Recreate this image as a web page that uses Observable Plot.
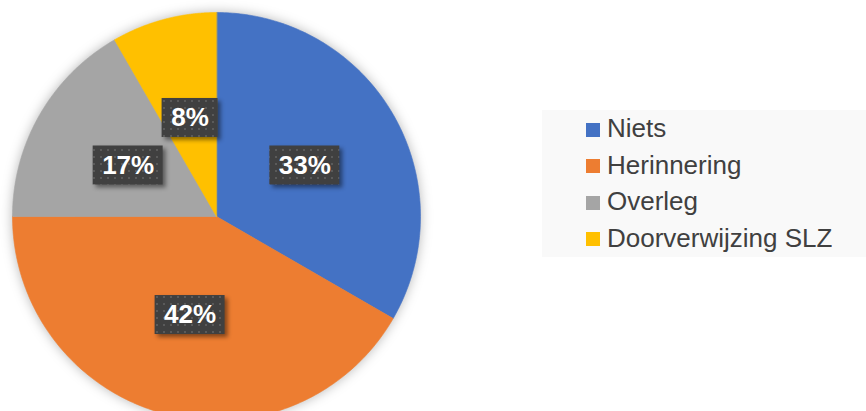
<!DOCTYPE html>
<html>
<head>
<meta charset="utf-8">
<script src="https://cdn.jsdelivr.net/npm/d3@7"></script>
<script src="https://cdn.jsdelivr.net/npm/@observablehq/plot@0.6"></script>
<style>
  body { margin: 0; background: #fff; font-family: "Liberation Sans", Arial, sans-serif; }
  #wrap { position: relative; width: 866px; height: 411px; overflow: hidden; background: #fff; }
  #chart { position: absolute; left: 0; top: 0; }
  #legend { position: absolute; left: 542px; top: 110px; width: 324px; height: 147px; background: #f9f9f9; box-sizing: border-box; padding-left: 44px; }
  #legend .lg-swatches { margin: 0 !important; font-family: "Liberation Sans", Arial, sans-serif; font-size: 26px; color: #404040; min-height: 0; }
  #legend .lg-swatch { display: flex; align-items: center; height: 36.5px; padding: 0 !important; margin: 0; }
  #legend .lg-swatch svg { margin-right: 7px !important; position: relative; top: 1.5px; }
  #legend .lg-swatch-label { line-height: 36.5px; }
</style>
</head>
<body>
<div id="wrap">
  <div id="chart"></div>
  <div id="legend"></div>
</div>
<script>
// ---- data ----
const categories = ["Niets", "Herinnering", "Overleg", "Doorverwijzing SLZ"];
const counts = [4, 5, 2, 1];
const labels = ["33%", "42%", "17%", "8%"];
const colors = ["#4472C4", "#ED7D31", "#A5A5A5", "#FFC000"];

// ---- derived geometry (unit circle, y up) ----
const arcs = d3.pie().sort(null).value(d => d)(counts);
const slicePoints = arcs.flatMap((a, i) => {
  const n = 160;
  const pts = [{cat: categories[i], x: 0, y: 0}];
  for (let k = 0; k <= n; k++) {
    const t = a.startAngle + (a.endAngle - a.startAngle) * k / n;
    pts.push({cat: categories[i], x: Math.sin(t), y: Math.cos(t)});
  }
  return pts;
});
const labelData = arcs.map((a, i) => {
  const m = (a.startAngle + a.endAngle) / 2;
  return {label: labels[i], x: 0.5 * Math.sin(m), y: 0.5 * Math.cos(m)};
});
const wide = labelData.filter(d => d.label.length >= 3);
const narrow = labelData.filter(d => d.label.length < 3);

const plot = Plot.plot({
  width: 866,
  height: 411,
  margin: 0,
  x: {domain: [-1, 1], range: [12, 420], axis: null},
  y: {domain: [-1, 1], range: [420, 12], axis: null},
  color: {domain: categories, range: colors},
  style: {background: "transparent"},
  marks: [
    Plot.line(slicePoints, {x: "x", y: "y", z: "cat", fill: "cat", stroke: "cat", strokeWidth: 0.6, curve: "linear-closed"}),
    Plot.rect(wide, {x1: "x", x2: "x", y1: "y", y2: "y", insetLeft: -35, insetRight: -35, insetTop: -19.5, insetBottom: -19.5, fill: "url(#dots)"}),
    Plot.rect(narrow, {x1: "x", x2: "x", y1: "y", y2: "y", insetLeft: -28, insetRight: -28, insetTop: -19.5, insetBottom: -19.5, fill: "url(#dots)"}),
    Plot.text(labelData, {x: "x", y: "y", text: "label", fill: "white", fontSize: 26, fontWeight: "bold", fontFamily: "Liberation Sans, Arial, sans-serif"})
  ]
});

// pattern for the label boxes
const ns = "http://www.w3.org/2000/svg";
const defs = document.createElementNS(ns, "defs");
defs.innerHTML = `<pattern id="dots" width="7" height="7" patternUnits="userSpaceOnUse">
  <rect width="7" height="7" fill="#404040"/>
  <rect x="2" y="2" width="2" height="2" fill="#5a5a5a"/>
</pattern>`;
plot.prepend(defs);
plot.querySelectorAll('g[aria-label="line"]').forEach(g => g.style.filter = "drop-shadow(0 0 6px rgba(0,0,0,0.28))");
plot.querySelectorAll('g[aria-label="rect"]').forEach(g => g.style.filter = "drop-shadow(3px 3px 2px rgba(0,0,0,0.45))");
document.getElementById("chart").appendChild(plot);

const legend = Plot.legend({
  color: {domain: categories, range: colors},
  legend: "swatches",
  columns: 1,
  swatchSize: 14,
  className: "lg"
});
document.getElementById("legend").appendChild(legend);
</script>
</body>
</html>
